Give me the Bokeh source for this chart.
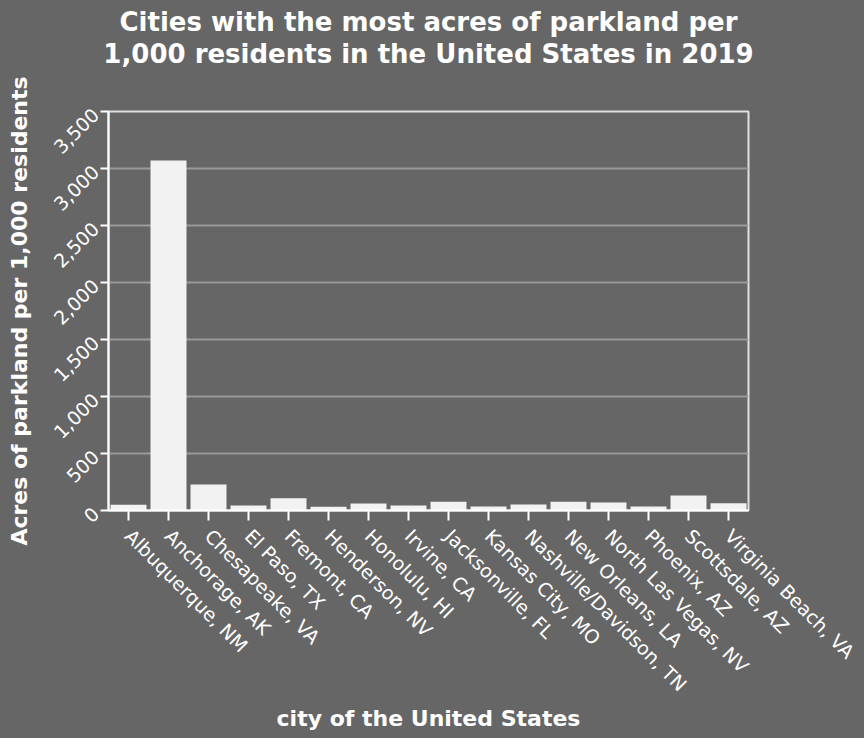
import math
from bokeh.plotting import figure
from bokeh.models import ColumnDataSource, NumeralTickFormatter, FixedTicker, Title
from bokeh.embed import file_html
from bokeh.resources import INLINE

cities = ["Albuquerque, NM", "Anchorage, AK", "Chesapeake, VA", "El Paso, TX",
          "Fremont, CA", "Henderson, NV", "Honolulu, HI", "Irvine, CA",
          "Jacksonville, FL", "Kansas City, MO", "Nashville/Davidson, TN",
          "New Orleans, LA", "North Las Vegas, NV", "Phoenix, AZ",
          "Scottsdale, AZ", "Virginia Beach, VA"]
acres = [50, 3070, 228, 44, 108, 32, 61, 44, 76, 35, 53, 76, 70, 35, 132, 64]
y_ticks = [0, 500, 1000, 1500, 2000, 2500, 3000, 3500]
title_lines = ["Cities with the most acres of parkland per",
               "1,000 residents in the United States in 2019"]

BG = "#666666"
FONT = "DejaVu Sans"

src = ColumnDataSource(dict(city=cities, acres=acres))

p = figure(x_range=cities, y_range=(0, 3500), width=864, height=738,
           output_backend="svg", toolbar_location=None,
           min_border_left=108, min_border_right=116,
           min_border_top=111, min_border_bottom=228)
p.background_fill_color = BG
p.border_fill_color = BG
p.outline_line_color = "#e0e0e0"
p.outline_line_width = 2

p.vbar(x="city", top="acres", width=0.9, source=src,
       fill_color="#f2f2f2", line_color=None)

def style_title(t, standoff):
    t.text_color = "white"
    t.text_font = FONT
    t.text_font_size = "26px"
    t.text_font_style = "bold"
    t.align = "center"
    t.standoff = standoff

# spacer (nearest the frame), then line 2, then line 1 (outermost, p.title)
spacer = Title(text="\u200b")
style_title(spacer, 11)
p.add_layout(spacer, "above")
t2 = Title(text=title_lines[1])
style_title(t2, 0)
p.add_layout(t2, "above")
p.title.text = title_lines[0]
style_title(p.title, 0)

p.xgrid.grid_line_color = None
p.ygrid.grid_line_color = "#999999"
p.ygrid.grid_line_width = 2

for ax in (p.xaxis[0], p.yaxis[0]):
    ax.axis_line_color = "white"
    ax.axis_line_width = 2
    ax.major_tick_line_color = "white"
    ax.major_tick_line_width = 2
    ax.minor_tick_line_color = None
    ax.major_label_text_color = "white"
    ax.major_label_text_font = FONT
    ax.major_label_text_font_size = "19px"
    ax.axis_label_text_color = "white"
    ax.axis_label_text_font = FONT
    ax.axis_label_text_font_size = "22px"
    ax.axis_label_text_font_style = "bold"

p.yaxis.ticker = FixedTicker(ticks=y_ticks)
p.yaxis.formatter = NumeralTickFormatter(format="0,0")
p.yaxis.major_label_orientation = math.pi / 4
p.yaxis.major_tick_out = 8
p.yaxis.major_tick_in = 0
p.yaxis.axis_label = "Acres of parkland per 1,000 residents"
p.yaxis.axis_label_standoff = 12

p.xaxis.major_label_orientation = -math.pi / 4
p.xaxis.major_tick_out = 10
p.xaxis.major_tick_in = 0
p.xaxis.major_label_standoff = 12
p.xaxis.axis_label = "city of the United States"
p.xaxis.axis_label_standoff = 0

html = file_html(p, INLINE)
html = html.replace("</head>", "<style>html,body{background:#666666;margin:0;}</style></head>", 1)
open("out.html", "w").write(html)
